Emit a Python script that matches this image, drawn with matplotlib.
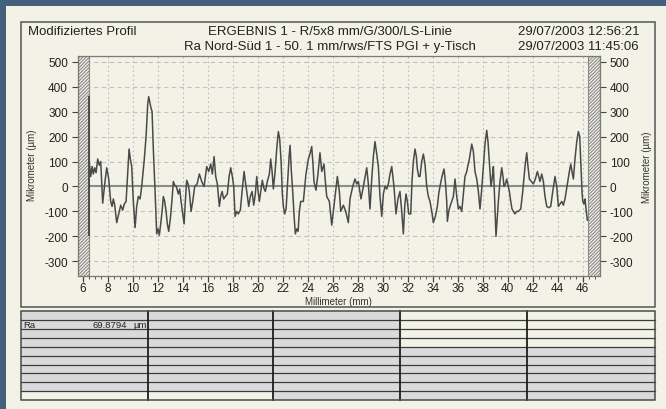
import matplotlib.pyplot as plt
from matplotlib.patches import Rectangle
from matplotlib.ticker import MultipleLocator

plt.rcParams['font.family'] = ['Liberation Sans', 'DejaVu Sans']
plt.rcParams['axes.unicode_minus'] = False
plt.rcParams['hatch.linewidth'] = 0.8

## Data

# profile: position [mm] and height [um]
pos_mm = [6.53, 6.64, 6.75, 6.85, 6.96, 7.07, 7.20, 7.33, 7.44, 7.60, 7.76, 7.92, 8.08, 8.24,
          8.35, 8.45, 8.56, 8.72, 8.88, 9.04, 9.20, 9.33, 9.47, 9.60, 9.71, 9.81, 9.92, 10.05,
          10.19, 10.32, 10.45, 10.59, 10.72, 10.91, 11.07, 11.20, 11.28, 11.36, 11.44, 11.55,
          11.65, 11.79, 11.92, 12.03, 12.13, 12.24, 12.35, 12.45, 12.56, 12.67, 12.77, 12.88,
          13.01, 13.15, 13.25, 13.36, 13.49, 13.65, 13.76, 13.87, 14.00, 14.11, 14.21, 14.32,
          14.43, 14.53, 14.67, 14.80, 14.96, 15.15, 15.33, 15.52, 15.71, 15.92, 16.08, 16.24,
          16.37, 16.51, 16.64, 16.77, 16.93, 17.04, 17.15, 17.28, 17.41, 17.57, 17.71, 17.84,
          17.97, 18.08, 18.19, 18.32, 18.45, 18.61, 18.75, 18.91, 19.01, 19.15, 19.28, 19.41,
          19.55, 19.68, 19.81, 19.92, 20.03, 20.13, 20.27, 20.37, 20.48, 20.61, 20.77, 20.93,
          21.04, 21.15, 21.25, 21.39, 21.52, 21.65, 21.76, 21.87, 21.97, 22.05, 22.16, 22.27,
          22.40, 22.51, 22.59, 22.69, 22.80, 22.91, 23.01, 23.12, 23.23, 23.33, 23.44, 23.65,
          23.86, 24.05, 24.18, 24.32, 24.42, 24.50, 24.66, 24.82, 24.98, 25.12, 25.30, 25.41,
          25.52, 25.73, 25.92, 26.05, 26.21, 26.37, 26.53, 26.64, 26.85, 27.04, 27.25, 27.38,
          27.60, 27.78, 27.92, 28.05, 28.26, 28.45, 28.72, 28.85, 28.98, 29.12, 29.25, 29.38,
          29.52, 29.65, 29.78, 29.92, 30.05, 30.18, 30.32, 30.45, 30.58, 30.72, 30.90, 31.06,
          31.22, 31.38, 31.52, 31.65, 31.76, 31.86, 31.97, 32.08, 32.24, 32.34, 32.45, 32.58,
          32.69, 32.77, 32.88, 32.98, 33.12, 33.25, 33.38, 33.52, 33.65, 33.78, 33.92, 34.05,
          34.21, 34.37, 34.48, 34.58, 34.74, 34.90, 35.01, 35.12, 35.17, 35.28, 35.38, 35.52,
          35.65, 35.78, 35.92, 36.05, 36.18, 36.32, 36.45, 36.58, 36.72, 36.80, 36.93, 37.12,
          37.25, 37.38, 37.52, 37.65, 37.78, 37.92, 38.05, 38.18, 38.32, 38.42, 38.53, 38.66,
          38.77, 38.85, 38.96, 39.06, 39.17, 39.25, 39.38, 39.52, 39.62, 39.70, 39.81, 39.92,
          40.13, 40.24, 40.34, 40.45, 40.58, 40.72, 40.85, 41.04, 41.20, 41.38, 41.52, 41.62,
          41.73, 41.89, 42.05, 42.21, 42.37, 42.48, 42.58, 42.72, 42.85, 42.98, 43.12, 43.28,
          43.44, 43.60, 43.78, 43.92, 44.05, 44.18, 44.32, 44.45, 44.58, 44.80, 44.93, 45.04,
          45.14, 45.25, 45.38, 45.52, 45.65, 45.76, 45.84, 45.94, 46.00, 46.10, 46.18, 46.26,
          46.37]
height_um = [95, 40, 80, 50, 75, 55, 110, 85, 100, -67, 10, 75, 30, -60,
             -80, -50, -75, -145, -110, -75, -95, -70, -60, 50, 150, 110, 80, -60,
             -165, -80, -40, -50, 0, 100, 200, 330, 360, 340, 320, 300,
             150, -20, -190, -170, -195, -150, -100, -40, -60, -100, -150, -180,
             -130, -50, 20, 5, 0, -30, -10, -60, -110, -150, -60, 25,
             10, -20, -100, -60, 0, 10, 50, 20, 0, 80, 60, 90,
             50, 120, 40, 10, -80, -40, -20, -50, -40, -30, 40, 75,
             40, 0, -120, -100, -110, -95, -20, 60, 20, -30, -80, -40,
             -20, -75, -30, 40, -20, -60, -10, 25, -5, -20, 20, 50,
             110, 60, -10, 60, 150, 220, 190, 100, -30, -80, -110, -90,
             20, 120, 165, 60, -20, -120, -190, -170, -180, -100, -60, -60,
             50, 110, 130, 160, 90, 20, -15, 50, 135, 60, 90, 20,
             -40, -60, -155, -100, -30, 40, -20, -100, -75, -100, -145, -50,
             0, 30, 10, 20, -50, 0, 75, 10, -90, 30, 120, 180,
             130, 80, -40, -120, -30, 0, -10, 10, 50, 80, 0, -110,
             -50, -20, -100, -190, -80, -30, -60, -110, -110, 20, 100, 150,
             120, 70, 40, 40, 100, 130, 90, 0, -40, -60, -100, -145,
             -120, -80, -30, 0, 40, 70, 20, -60, -140, -100, -80, -60,
             -40, 30, -40, -90, -80, -100, -30, 40, 60, 80, 110, 170,
             140, 60, 30, -20, -90, -10, 80, 170, 225, 180, 100, 0,
             40, 80, -60, -200, -120, -60, 20, 75, 40, 0, 10, 30,
             -20, -60, -90, -100, -110, -100, -100, -90, -20, 80, 135, 80,
             30, 20, 10, 30, 60, 40, 20, 50, 20, -40, -80, -85,
             -80, -20, 40, 0, -80, -70, -60, -75, -50, 20, 60, 90,
             60, 30, 110, 180, 220, 200, 100, -20, -60, -70, -50, -90,
             -135]
start_jump = [-200, 362]   # vertical stroke at the start of the profile

x_ticks = list(range(6, 47, 2))
y_ticks = list(range(-300, 501, 100))

header_left = "Modifiziertes Profil"
header_mid = ["ERGEBNIS 1 - R/5x8 mm/G/300/LS-Linie",
              "Ra Nord-Süd 1 - 50. 1 mm/rws/FTS PGI + y-Tisch"]
header_right = ["29/07/2003 12:56:21", "29/07/2003 11:45:06"]

ra_label = "Ra"
ra_value = "69.8794"
ra_unit = "µm"

## Colours

cream = '#f3f2e7'
border = '#44607a'
cellgray = '#dadadc'

W, H = 666.0, 410.0

def fx(px):
    return px / W

def fy(py):
    return 1 - py / H

fig = plt.figure(figsize=(6.66, 4.10), dpi=100, facecolor=cream)

# dark frame round the panel
fig.patches.append(Rectangle((0, fy(7)), 1, 7 / H, transform=fig.transFigure,
                             facecolor=border, edgecolor='none', zorder=0))
fig.patches.append(Rectangle((0, 0), 6 / W, 1, transform=fig.transFigure,
                             facecolor=border, edgecolor='none', zorder=0))

# header box
fig.patches.append(Rectangle((fx(20.7), fy(307.5)), (655 - 20.7) / W, (307.5 - 22.7) / H,
                             transform=fig.transFigure, facecolor='none',
                             edgecolor='#555555', lw=1.1, zorder=1))

hfs = 9.5
fig.text(fx(28), fy(32), header_left, fontsize=hfs, va='center', ha='left', color='#222222')
fig.text(fx(330), fy(32), header_mid[0], fontsize=hfs, va='center', ha='center', color='#222222')
fig.text(fx(330), fy(47), header_mid[1], fontsize=hfs, va='center', ha='center', color='#222222')
fig.text(fx(518), fy(32), header_right[0], fontsize=hfs, va='center', ha='left', color='#222222')
fig.text(fx(518), fy(47), header_right[1], fontsize=hfs, va='center', ha='left', color='#222222')

## Plot

ax = fig.add_axes([fx(77.7), fy(276.5), (600 - 77.7) / W, (276.5 - 57.3) / H])
ax.set_facecolor(cream)
ax.set_xlim(5.6, 47.38)
ax.set_ylim(-357, 522)

ax.set_axisbelow(True)
ax.grid(axis='x', linestyle=(0, (1.5, 2.5)), color='#bdbdbd', lw=0.8)
ax.grid(axis='y', linestyle=(0, (4, 3)), color='#c2c2c2', lw=0.8)
ax.axhline(0, color='#8c8c8c', lw=1.5, zorder=0.8)

ax.axvspan(5.6, 6.53, facecolor=cream, edgecolor='#8a8a8a', hatch='//////////', lw=0.8, zorder=1)
ax.axvspan(46.45, 47.38, facecolor=cream, edgecolor='#8a8a8a', hatch='//////////', lw=0.8, zorder=1)

ax.vlines(pos_mm[0], start_jump[0], start_jump[1], color='#444444', lw=1.3, zorder=3)
ax.plot(pos_mm, height_um, color='#4a4a4a', lw=1.1, zorder=3)

ax.set_xticks(x_ticks)
ax.set_yticks(y_ticks)
ax.xaxis.set_minor_locator(MultipleLocator(0.5))
ax.yaxis.set_minor_locator(MultipleLocator(10))

ax.tick_params(axis='both', which='major', labelsize=8.5, colors='#444444', labelcolor='#222222')
ax.tick_params(axis='y', which='major', direction='out', length=4, width=0.8,
               left=True, right=True, labelleft=True, labelright=True, pad=3)
ax.tick_params(axis='y', which='minor', direction='in', length=3, width=0.5,
               left=True, right=True, colors='#555555')
ax.tick_params(axis='x', which='major', direction='out', length=4, width=0.9, pad=0.8)
ax.tick_params(axis='x', which='minor', direction='out', length=2.5, width=0.7, colors='#555555')

for s in ax.spines.values():
    s.set_color('#7a7a7a')
    s.set_linewidth(0.9)

ax.set_xlabel("Millimeter (mm)", fontsize=7, color='#333333', labelpad=1)
fig.text(fx(31.7), fy(165), "Mikrometer (µm)", fontsize=7, rotation=90,
         va='center', ha='center', color='#333333')
fig.text(fx(647), fy(167), "Mikrometer (µm)", fontsize=7, rotation=90,
         va='center', ha='center', color='#333333')

## Table under the plot

col_edges = [20.7, 148, 273, 400, 527, 655]
n_rows = 10
row_top, row_bottom = 312.3, 401
row_h = (row_bottom - row_top) / n_rows
gray_rows = [range(0, 9), range(0, 9), range(0, 10), range(4, 10), range(4, 10)]

for c in range(len(col_edges) - 1):
    for r in range(n_rows):
        col = cellgray if r in gray_rows[c] else cream
        y0 = row_top + r * row_h
        fig.patches.append(Rectangle((fx(col_edges[c]), fy(y0 + row_h)),
                                     (col_edges[c + 1] - col_edges[c]) / W, row_h / H,
                                     transform=fig.transFigure, facecolor=col,
                                     edgecolor='none', zorder=1))

for r in range(1, n_rows):
    y0 = row_top + r * row_h
    fig.lines.append(plt.Line2D([fx(col_edges[0]), fx(col_edges[-1])], [fy(y0), fy(y0)],
                                transform=fig.transFigure, color='#3c3c3c', lw=0.9, zorder=2))
for xe in col_edges[1:-1]:
    fig.lines.append(plt.Line2D([fx(xe), fx(xe)], [fy(row_top), fy(row_bottom)],
                                transform=fig.transFigure, color='#1e1e1e', lw=1.3, zorder=3))
fig.patches.append(Rectangle((fx(col_edges[0]), fy(row_bottom)),
                             (col_edges[-1] - col_edges[0]) / W, (row_bottom - row_top) / H,
                             transform=fig.transFigure, facecolor='none',
                             edgecolor='#4a4a4a', lw=1.1, zorder=3))

ra_y = row_top + 1.5 * row_h
fig.text(fx(23), fy(ra_y), ra_label, fontsize=6.8, va='center', ha='left', color='#222222')
fig.text(fx(127), fy(ra_y), ra_value, fontsize=6.8, va='center', ha='right', color='#222222')
fig.text(fx(133), fy(ra_y), ra_unit, fontsize=6.8, va='center', ha='left', color='#222222')

plt.savefig('out.png', dpi=100, facecolor=cream)
